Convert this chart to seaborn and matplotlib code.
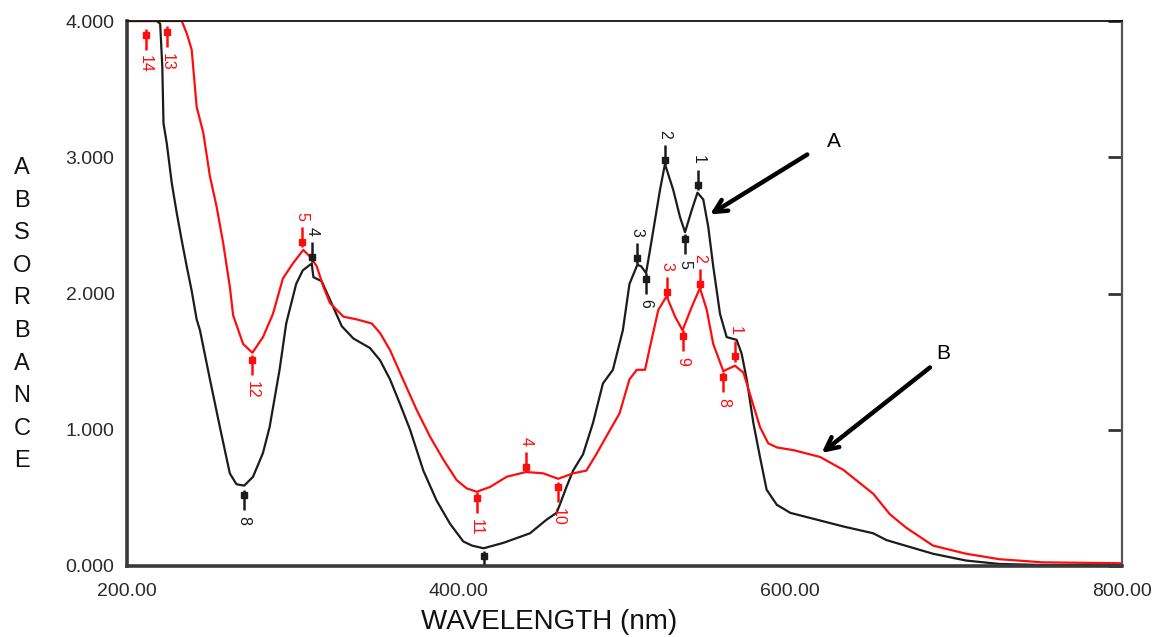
import numpy as np
import pandas as pd
import matplotlib
matplotlib.use("Agg")
import matplotlib.pyplot as plt
import seaborn as sns

# ---------------- data ----------------
a_wavelength = [200, 210, 218, 220, 221.3, 222, 224, 227, 230, 233, 236, 239, 242, 244, 250, 256, 262, 266,
                270.7, 276, 282, 286, 292, 296, 302, 306, 311.4, 312.4, 317.4, 324.4, 329.5, 336.5, 346.5,
                352.6, 358.6, 364.6, 370.7, 378.7, 386.7, 394.8, 402.8, 408, 415, 427, 443, 453, 459, 461,
                465, 469, 475, 481, 487, 493, 499, 503, 507.7, 510, 513, 515.4, 521.4, 524.4, 529.4, 533.5,
                536.5, 540.5, 544, 547.5, 550.5, 553.5, 557.6, 561.6, 567.6, 570.6, 573.7, 577.7, 581.7,
                585.7, 591.8, 600, 616, 632, 650, 658, 672, 686, 706, 726, 750, 800]
a_absorbance = [4.00, 4.00, 4.00, 3.98, 3.66, 3.25, 3.10, 2.81, 2.59, 2.39, 2.20, 2.02, 1.81, 1.73, 1.37, 1.02,
                0.68, 0.60, 0.59, 0.655, 0.83, 1.02, 1.44, 1.78, 2.07, 2.17, 2.22, 2.12, 2.09, 1.90, 1.76,
                1.67, 1.60, 1.51, 1.37, 1.19, 1.00, 0.70, 0.48, 0.31, 0.18, 0.15, 0.13, 0.17, 0.24, 0.34,
                0.39, 0.45, 0.58, 0.70, 0.82, 1.05, 1.34, 1.44, 1.73, 2.07, 2.21, 2.20, 2.15, 2.32, 2.76,
                2.95, 2.76, 2.56, 2.45, 2.61, 2.74, 2.69, 2.49, 2.20, 1.85, 1.68, 1.66, 1.56, 1.37, 1.05,
                0.80, 0.56, 0.45, 0.39, 0.34, 0.29, 0.24, 0.19, 0.14, 0.09, 0.04, 0.015, 0.008, 0.005]

b_wavelength = [200, 233, 236, 239, 242, 246, 250, 254, 258, 262, 264, 270, 275.6, 282, 288, 294, 300, 306.3,
                310.4, 314.4, 318.4, 322.4, 330.5, 338.5, 347.6, 352.6, 358.6, 366.6, 374.7, 382.7, 390.8,
                398.8, 404.8, 410.9, 418.9, 429, 440.6, 451, 460, 469, 477, 483, 489, 497, 503, 507.4,
                512.4, 515.4, 520.4, 525.4, 530.5, 535, 540.5, 545.5, 549.6, 553.5, 559.6, 566.6, 571.7,
                576.7, 581.7, 586.7, 592, 602, 618, 632, 650, 660, 670, 686, 706, 726, 752, 800]
b_absorbance = [4.00, 4.00, 3.91, 3.79, 3.37, 3.18, 2.86, 2.64, 2.37, 2.05, 1.84, 1.63, 1.565, 1.68, 1.85, 2.11,
                2.22, 2.32, 2.27, 2.20, 2.05, 1.93, 1.83, 1.81, 1.78, 1.71, 1.585, 1.365, 1.145, 0.95, 0.78,
                0.63, 0.57, 0.545, 0.58, 0.655, 0.69, 0.68, 0.64, 0.68, 0.70, 0.82, 0.95, 1.12, 1.37, 1.44,
                1.44, 1.61, 1.88, 1.98, 1.83, 1.73, 1.90, 2.04, 1.88, 1.63, 1.43, 1.47, 1.42, 1.22, 1.02,
                0.90, 0.87, 0.85, 0.80, 0.705, 0.53, 0.38, 0.28, 0.15, 0.09, 0.05, 0.027, 0.02]

# peak / valley picks
a_pick_labels = ["1", "2", "3", "4", "5", "6", "7", "8"]
a_pick_wavelength = [544.5, 524.4, 507.7, 311.6, 536.5, 513.0, 415.5, 270.7]
a_pick_absorbance = [2.80, 2.98, 2.26, 2.27, 2.40, 2.11, 0.07, 0.52]
a_pick_kind = ["max", "max", "max", "max", "min", "min", "min", "min"]

b_pick_labels = ["1", "2", "3", "4", "5", "8", "9", "10", "11", "12", "13", "14"]
b_pick_wavelength = [566.6, 545.5, 525.4, 440.6, 305.3, 559.6, 535.0, 460.0, 410.9, 275.6, 224.0, 211.3]
b_pick_absorbance = [1.54, 2.07, 2.01, 0.73, 2.38, 1.385, 1.69, 0.58, 0.50, 1.51, 3.92, 3.90]
b_pick_kind = ["max", "max", "max", "max", "max", "min", "min", "min", "min", "min", "min", "min"]

x_ticks = [200, 400, 600, 800]
x_tick_labels = ["200.00", "400.00", "600.00", "800.00"]
y_ticks = [0, 1, 2, 3, 4]
y_tick_labels = ["0.000", "1.000", "2.000", "3.000", "4.000"]
y_label = "ABSORBANCE"
x_label = "WAVELENGTH (nm)"

# ---------------- style ----------------
sns.set_style("white")
plt.rcParams["font.family"] = ["Liberation Sans", "DejaVu Sans"]

W, H = 1152, 637
fig = plt.figure(figsize=(W / 100, H / 100), dpi=100)
ax = fig.add_axes([127 / W, 1 - 566 / H, (1122 - 127) / W, (566 - 21) / H])

BLACK = "#1c1c1c"
RED = "#ff0d0d"
Y_MIN, Y_MAX = 0, 4

df = pd.concat([
    pd.DataFrame({"wavelength": a_wavelength, "absorbance": a_absorbance, "sample": "A"}),
    pd.DataFrame({"wavelength": b_wavelength, "absorbance": b_absorbance, "sample": "B"}),
], ignore_index=True)

sns.lineplot(data=df, x="wavelength", y="absorbance", hue="sample", hue_order=["A", "B"],
             palette={"A": BLACK, "B": RED}, estimator=None, sort=False, legend=False,
             linewidth=1.6, ax=ax)


def draw_picks(wls, vals, kinds, labels, color):
    for wl, v, k, lab in zip(wls, vals, kinds, labels):
        d = 1 if k == "max" else -1
        ax.vlines(wl, v - d * 0.04, v + d * 0.11, color=color, lw=1.8)
        ax.plot([wl], [v], marker="s", ms=4.5, color=color, mec=color)
        # the instrument hides labels that would fall outside the plotting frame
        if Y_MIN < v + d * 0.25 < Y_MAX:
            ax.annotate(lab, xy=(wl, v), xytext=(0, d * 15), textcoords="offset points",
                        ha="center", va="bottom" if d > 0 else "top", rotation=-90,
                        fontsize=11.5, color=color, clip_on=True)


draw_picks(a_pick_wavelength, a_pick_absorbance, a_pick_kind, a_pick_labels, BLACK)
draw_picks(b_pick_wavelength, b_pick_absorbance, b_pick_kind, b_pick_labels, RED)

# arrows
arrow_kw = dict(arrowstyle="->,head_length=0.9,head_width=0.45", lw=3.2, color="black",
                shrinkA=0, shrinkB=0)
ax.annotate("", xy=(551.6, 2.58), xytext=(610.2, 3.02), arrowprops=arrow_kw)
ax.annotate("", xy=(618.9, 0.83), xytext=(684.2, 1.457), arrowprops=arrow_kw)
ax.text(626.0, 3.115, "A", fontsize=15, ha="center", va="center", color="black")
ax.text(692.3, 1.557, "B", fontsize=15, ha="center", va="center", color="black")

# axes
ax.set_xlim(200, 800)
ax.set_ylim(Y_MIN, Y_MAX)
ax.set_xticks(x_ticks)
ax.set_xticklabels(x_tick_labels)
ax.set_yticks(y_ticks)
ax.set_yticklabels(y_tick_labels)
ax.tick_params(axis="y", direction="in", length=10, width=2, color="#333333", right=True,
               labelsize=14, labelcolor="#2a2a2a", pad=9)
ax.tick_params(axis="x", direction="in", length=8, width=1.2, color="#333333",
               labelsize=14, labelcolor="#2a2a2a", pad=12)
ax.set_xlabel("")
ax.set_ylabel("")
for side, lw, col in [("left", 2.6, "#3a3a3a"), ("bottom", 2.6, "#3a3a3a"),
                      ("top", 1.3, "#111111"), ("right", 1.6, "#555555")]:
    ax.spines[side].set_visible(True)
    ax.spines[side].set_linewidth(lw)
    ax.spines[side].set_color(col)

# stacked y label
for i, ch in enumerate(y_label):
    fig.text(22 / W, 1 - (168 + i * 32.6) / H, ch, ha="center", va="center", fontsize=17, color="#111111")

fig.text(549 / W, 1 - 622 / H, x_label, ha="center", va="center", fontsize=20, color="#111111")

fig.savefig("out.png", dpi=100)
